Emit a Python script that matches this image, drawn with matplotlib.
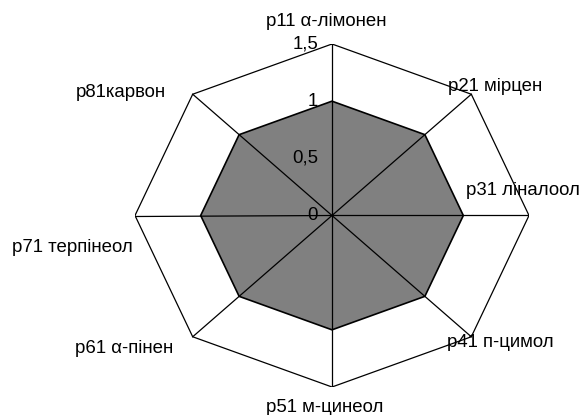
import numpy as np
import matplotlib.pyplot as plt

plt.rcParams['font.family'] = ['Liberation Sans', 'DejaVu Sans']

categories = ['p11 α-лімонен', 'p21 мірцен', 'p31 ліналоол', 'p41 п-цимол',
              'p51 м-цинеол', 'p61 α-пінен', 'p71 терпінеол', 'p81карвон']
values = [1, 1, 1, 1, 1, 1, 1, 1]
ticks = [0, 0.5, 1, 1.5]
tick_labels = ['0', '0,5', '1', '1,5']
rmax = 1.5

# label placement (pixel offsets from the outer vertex, alignment)
label_layout = [(-6, 23, 'center'), (-23, 8, 'left'), (-63, 25, 'left'),
                (-24, -6, 'left'), (-7, -20, 'center'), (-19, -12, 'right'),
                (-2, -32, 'right'), (-27, 2, 'right')]

n = len(categories)
theta = np.arange(n) * 2 * np.pi / n

fig = plt.figure(figsize=(5.8, 4.15), dpi=100)
ax = fig.add_axes([135 / 580, 28 / 415, 394 / 580, 343 / 415])
ax.set_xlim(-rmax, rmax)
ax.set_ylim(-rmax, rmax)
ax.axis('off')

xo = rmax * np.sin(theta)
yo = rmax * np.cos(theta)

# data polygon
xv = np.array(values) * np.sin(theta)
yv = np.array(values) * np.cos(theta)
ax.fill(xv, yv, facecolor='#808080', edgecolor='black', linewidth=1.2, zorder=1)

# outer grid and spokes
ax.plot(np.append(xo, xo[0]), np.append(yo, yo[0]), color='black', linewidth=0.9, zorder=2)
for x, y in zip(xo, yo):
    ax.plot([0, x], [0, y], color='black', linewidth=0.9, zorder=2)

# value axis labels
for t, lab in zip(ticks, tick_labels):
    ax.annotate(lab, xy=(0, t), xytext=(-14, 0), textcoords='offset pixels',
                ha='right', va='center', fontsize=13.4)

# category labels
for x, y, lab, (dx, dy, ha) in zip(xo, yo, categories, label_layout):
    ax.annotate(lab, xy=(x, y), xytext=(dx, dy), textcoords='offset pixels',
                ha=ha, va='center', fontsize=13.4, annotation_clip=False)

fig.savefig('out.png', dpi=100)
